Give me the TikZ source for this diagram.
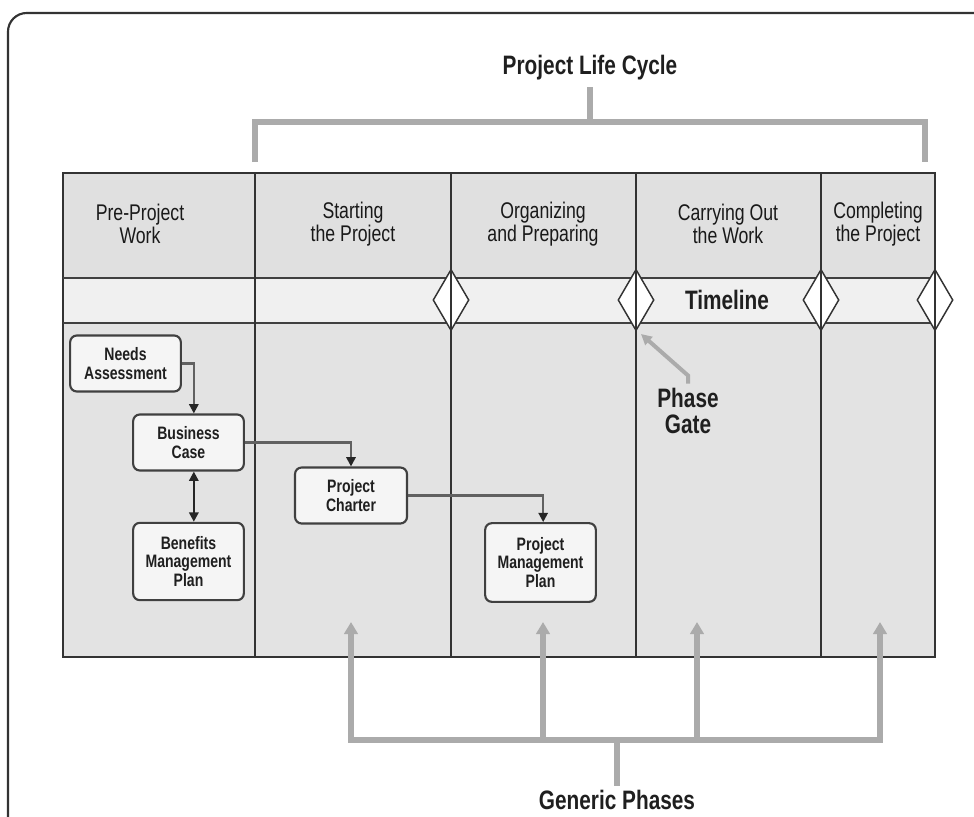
\documentclass[tikz,border=0pt]{standalone}
\usepackage{fontspec}
\setmainfont{Liberation Sans}[FakeStretch=0.78]
\usetikzlibrary{arrows.meta,shapes.geometric}
\begin{document}
\begin{tikzpicture}[x=0.75pt,y=-0.75pt,
  grid/.style={draw=black!80, line width=1.1pt},
  band/.style={draw=black!75, line width=1.5pt},
  pbox/.style={draw=black!75, line width=1.6pt, rounded corners=5pt, fill=black!4, align=center, inner sep=0pt, font=\bfseries\fontsize{13.5}{13.8}\selectfont, text=black!88},
  hdr/.style={align=center, font=\fontsize{17}{17.3}\selectfont, text=black!90},
  big/.style={font=\bfseries\fontsize{20}{19.5}\selectfont, text=black!88, align=center},
  gate/.style={shape=diamond, draw=black!80, line width=1.1pt, fill=white, minimum width=27pt, minimum height=46pt, inner sep=0pt},
  bracket/.style={draw=black!33, line width=4pt},
  gtip/.style={-{Triangle[length=9pt,width=10pt]}},
  conn/.style={draw=black!62, line width=1.6pt, -{Triangle[length=7pt,width=7pt,color=black!85]}},
  dconn/.style={draw=black!85, line width=1.6pt, {Triangle[length=7pt,width=7pt]}-{Triangle[length=7pt,width=7pt]}},
]
\useasboundingbox (0,0) rectangle (974,817);
\clip (0,0) rectangle (974,817);
% outer frame
\draw[black!80, line width=1.6pt, rounded corners=14pt] (8,840) -- (8,13) -- (1000,13);
% title and top bracket
\node[big] (title) at (590,68) {Project Life Cycle};
\coordinate (tl) at (255,162);
\coordinate (tr) at (925,162);
\coordinate (tm) at (590,122);
\coordinate (ts) at (590,87);
\draw[bracket] (tl) |- (tm) -| (tr);
\draw[bracket] (tm) -- (ts);
% table fills
\fill[black!12] (63,173) rectangle (935,278);
\fill[black!6] (63,278) rectangle (935,323);
\fill[black!11] (63,323) rectangle (935,657);
\draw[grid] (63,173) rectangle (935,657);
\draw[band] (63,278) -- (935,278);
\draw[band] (63,323) -- (935,323);
% phase gates
\node[gate] (g1) at (451,300) {};
\node[gate] (g2) at (636,300) {};
\node[gate] (g3) at (821,300) {};
\node[gate] (g4) at (935,300) {};
\draw[grid] (255,173) -- (255,657);
\draw[grid] (451,173) -- (451,657);
\draw[grid] (636,173) -- (636,657);
\draw[grid] (821,173) -- (821,657);
\draw[grid] (935,173) -- (935,657);
% headers
\node[hdr] (h1) at (140,224) {Pre-Project\\Work};
\node[hdr] (h2) at (353,224) {Starting\\the Project};
\node[hdr] (h3) at (543,224) {Organizing\\and Preparing};
\node[hdr] (h4) at (728,224) {Carrying Out\\the Work};
\node[hdr] (h5) at (878,224) {Completing\\the Project};
\node[big] (tline) at (727,300) {Timeline};
% phase gate label
\node[big] (pg) at (688,411) {Phase\\Gate};
\coordinate (pgt) at (641,334);
\draw[draw=black!33, line width=3pt, -{Triangle[length=8pt,width=8pt]}] (pg.north) -- ++(0,-8) -- (pgt);
% process boxes
\node[pbox, minimum width=83pt, minimum height=42pt] (na) at (125.5,363.5) {Needs\\Assessment};
\node[pbox, minimum width=83pt, minimum height=42pt] (bc) at (188.5,442.5) {Business\\Case};
\node[pbox, minimum width=83pt, minimum height=58pt] (bm) at (188.5,561.5) {Benefits\\Management\\Plan};
\node[pbox, minimum width=84pt, minimum height=42pt] (pc) at (351,495.5) {Project\\Charter};
\node[pbox, minimum width=83pt, minimum height=59pt] (pm) at (540.5,562.5) {Project\\Management\\Plan};
\draw[conn] (na.east) -| ([xshift=4pt]bc.north);
\draw[conn] (bc.east) -| (pc.north);
\draw[conn] (pc.east) -| ([xshift=2pt]pm.north);
\draw[dconn] ([xshift=4pt]bc.south) -- ([xshift=4pt]bm.north);
% generic phases bracket
\coordinate (b1) at (351,740);
\coordinate (b2) at (543,740);
\coordinate (b3) at (697,740);
\coordinate (b4) at (880,740);
\coordinate (a1) at (351,622);
\coordinate (a2) at (543,622);
\coordinate (a3) at (697,622);
\coordinate (a4) at (880,622);
\coordinate (bm1) at (617,740);
\node[big] (gp) at (617,800) {Generic Phases};
\draw[bracket] ([xshift=-2pt]b1) -- ([xshift=2pt]b4);
\draw[bracket] (bm1) -- (gp.north);
\foreach \i in {1,2,3,4} {\draw[bracket, gtip] (b\i) -- (a\i);}
\end{tikzpicture}
\end{document}
